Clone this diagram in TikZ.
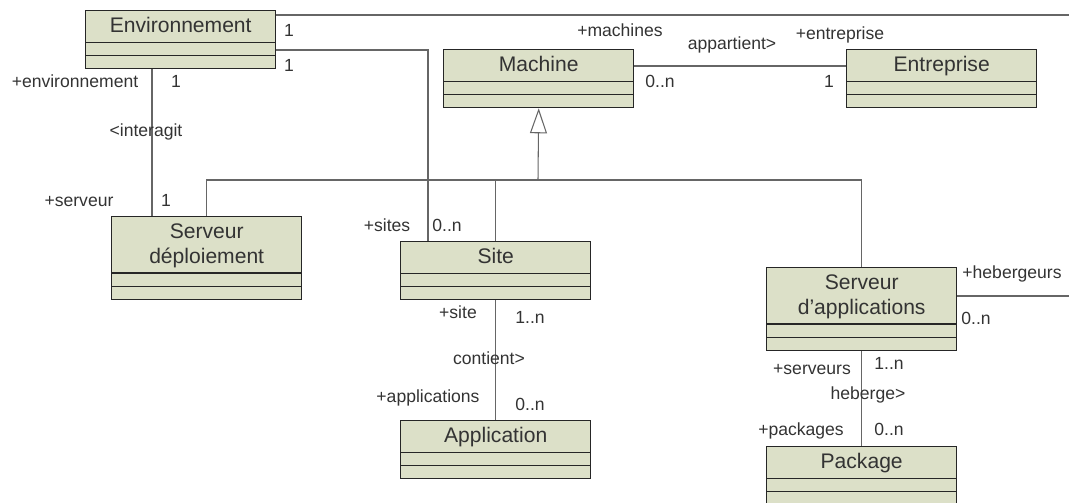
\documentclass[tikz,border=0pt]{standalone}
\usepackage{fontspec}
\setmainfont{Liberation Sans}
\usetikzlibrary{shapes.multipart,arrows.meta}

\definecolor{classfill}{RGB}{220,224,200}
\newcommand{\ctop}{\rule{0pt}{12.25pt}}
\newcommand{\cbot}{\rule[-4.9pt]{0pt}{4.9pt}}
\newcommand{\cpart}{\rule{0pt}{6.7pt}}

\begin{document}
\begin{tikzpicture}[x=0.02cm, y=-0.02cm,
    class/.style={rectangle split, rectangle split parts=3, draw=black!85, line width=0.8pt,
      fill=classfill, minimum width=3.8cm, inner xsep=2pt, inner ysep=0pt, align=center,
      rectangle split empty part height=6.7pt, anchor=north west, text=black!80,
      font=\fontsize{12}{14.2}\selectfont},
    assoc/.style={draw=black!60, line width=0.6pt},
    gen/.style={assoc, -{Triangle[open, length=0.5cm, width=0.34cm]}},
    lbl/.style={anchor=base, inner sep=0pt, text=black!80, font=\fontsize{10}{12}\selectfont}]
  \useasboundingbox (0,0) rectangle (1069,503);

  % Nodes
  \node[class] (env) at (85,10) {\ctop Environnement\cbot \nodepart{two}\cpart \nodepart{three}\cpart};
  \node[class] (machine) at (443,49) {\ctop Machine\cbot \nodepart{two}\cpart \nodepart{three}\cpart};
  \node[class] (ent) at (846,49) {\ctop Entreprise\cbot \nodepart{two}\cpart \nodepart{three}\cpart};
  \node[class] (sd) at (111,216) {\ctop Serveur\\ déploiement\cbot \nodepart{two}\cpart \nodepart{three}\cpart};
  \node[class] (site) at (400,241) {\ctop Site\cbot \nodepart{two}\cpart \nodepart{three}\cpart};
  \node[class] (app) at (400,420) {\ctop Application\cbot \nodepart{two}\cpart \nodepart{three}\cpart};
  \node[class] (sa) at (766,267) {\ctop Serveur\\ d’applications\cbot \nodepart{two}\cpart \nodepart{three}\cpart};
  \node[class] (pkg) at (766,446) {\ctop Package\cbot \nodepart{two}\cpart \nodepart{three}\cpart};

  \coordinate (bus) at (538,180);
  \coordinate (outT) at (1069,15);
  \coordinate (outH) at (1069,296);

  % Edges
  \draw[assoc] (env.east |- outT) -- (outT);
  \draw[assoc] (env.east |- 0,50) -| (site.north -| 428,0);
  \draw[assoc] (env.south -| 152,0) -- (sd.north -| 152,0);
  \draw[assoc] (machine.east |- 0,66) -- (ent.west |- 0,66);
  \draw[gen] (bus) -- (machine.south);
  \draw[assoc] (sd.north) |- (sa.north |- bus) -- (sa.north);
  \draw[assoc] (bus -| site.north) -- (site.north);
  \draw[assoc] (site.south) -- (app.north);
  \draw[assoc] (sa.east |- outH) -- (outH);
  \draw[assoc] (sa.south) -- (pkg.north);

  % Labels
  \node[lbl] (lEnvT) at (289,37) {1};
  \node[lbl] (lEnvS) at (289,72) {1};
  \node[lbl] (lEnvRole) at (75,88) {+environnement};
  \node[lbl] (lEnvMul) at (176,88) {1};
  \node[lbl] (lInter) at (146,137) {<interagit};
  \node[lbl] (lSdRole) at (79,207) {+serveur};
  \node[lbl] (lSdMul) at (166,207) {1};
  \node[lbl] (lMachRole) at (620,37) {+machines};
  \node[lbl] (lMachMul) at (660,88) {0..n};
  \node[lbl] (lAppart) at (732,50) {appartient>};
  \node[lbl] (lEntRole) at (840,40) {+entreprise};
  \node[lbl] (lEntMul) at (829,88) {1};
  \node[lbl] (lSitesRole) at (387,232) {+sites};
  \node[lbl] (lSitesMul) at (447,232) {0..n};
  \node[lbl] (lSiteRole) at (458,318) {+site};
  \node[lbl] (lSiteMul) at (530,324) {1..n};
  \node[lbl] (lCont) at (489,365) {contient>};
  \node[lbl] (lAppsRole) at (428,402) {+applications};
  \node[lbl] (lAppsMul) at (530,411) {0..n};
  \node[lbl] (lHebRole) at (1012,279) {+hebergeurs};
  \node[lbl] (lHebMul) at (976,325) {0..n};
  \node[lbl] (lSaRole) at (812,375) {+serveurs};
  \node[lbl] (lSaMul) at (889,370) {1..n};
  \node[lbl] (lHeb) at (868,399) {heberge>};
  \node[lbl] (lPkgRole) at (801,436) {+packages};
  \node[lbl] (lPkgMul) at (889,436) {0..n};
\end{tikzpicture}
\end{document}
